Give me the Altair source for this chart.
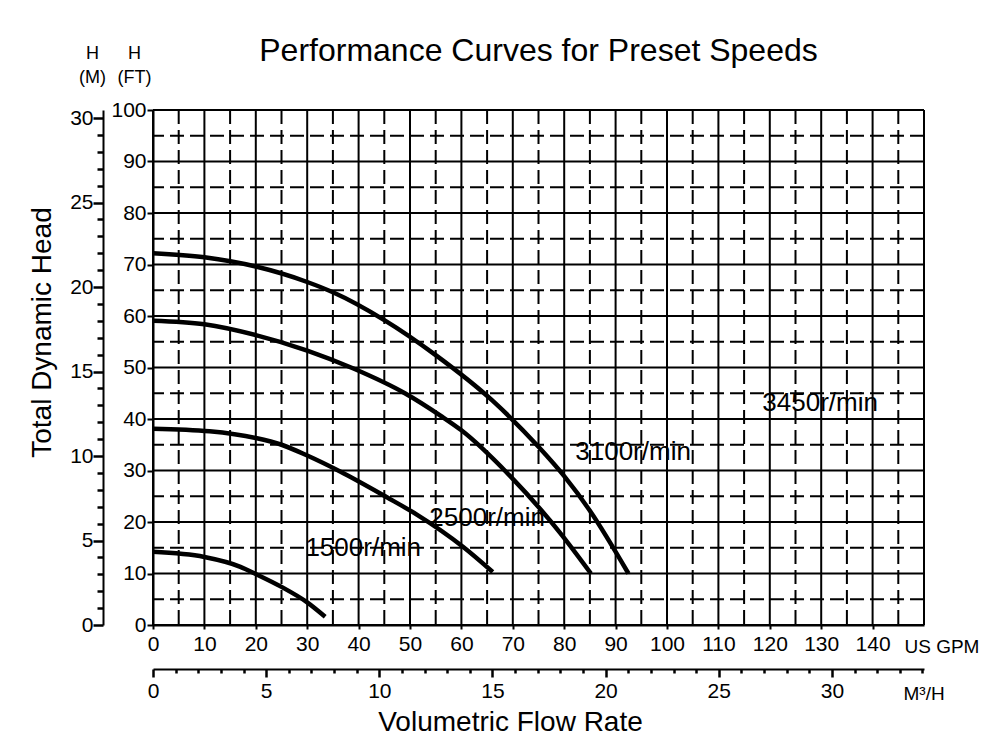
import altair as alt
import pandas as pd

FONT = "'Liberation Sans Narrow', 'Liberation Sans', Arial, sans-serif"

# ---- data ----
SPEEDS = ["3450r/min", "3100r/min", "2500r/min", "1500r/min"]
Q_3450 = [0, 10, 20, 30, 35, 45, 55, 66, 75, 80, 85, 92.5]
H_3450 = [72.2, 71.4, 69.6, 66.6, 64.6, 59.2, 52.4, 43.6, 34.6, 28.9, 22.2, 10]
Q_3100 = [0, 10, 20, 30, 39, 49, 56, 60, 69.5, 79.2, 85.2]
H_3100 = [59.1, 58.4, 56.3, 53.3, 49.8, 45.0, 40.6, 37.8, 28.9, 17.9, 10]
Q_2500 = [0, 11, 20, 25, 30, 36.4, 45.5, 51.4, 60.3, 66.1]
H_2500 = [38.1, 37.6, 36.3, 35, 32.9, 29.8, 24.8, 21.4, 15.2, 10.3]
Q_1500 = [0, 10, 17, 20, 25, 30, 33.5]
H_1500 = [14.2, 13.2, 11.3, 9.9, 7.4, 4.4, 1.6]

LABEL_Q = [129.8, 93.4, 65, 40.9]
LABEL_H = [43.2, 33.5, 20.8, 15]

GPM_TICKS = [0, 10, 20, 30, 40, 50, 60, 70, 80, 90, 100, 110, 120, 130, 140]
FT_TICKS = [0, 10, 20, 30, 40, 50, 60, 70, 80, 90, 100]
GRID_GPM_MAJOR = [0, 10, 20, 30, 40, 50, 60, 70, 80, 90, 100, 110, 120, 130, 140, 150]
GRID_GPM_MINOR = [5, 15, 25, 35, 45, 55, 65, 75, 85, 95, 105, 115, 125, 135, 145]
GRID_FT_MAJOR = [0, 10, 20, 30, 40, 50, 60, 70, 80, 90, 100]
GRID_FT_MINOR = [5, 15, 25, 35, 45, 55, 65, 75, 85, 95]
M_TICKS = list(range(0, 31))        # metres
M3H_TICKS = list(range(0, 35))      # cubic metres per hour

GPM_MAX = 150
FT_MAX = 100
FT_TO_M = 0.3048
GPM_TO_M3H = 0.2271247

rows = []
for name, qs, hs in [(SPEEDS[0], Q_3450, H_3450), (SPEEDS[1], Q_3100, H_3100),
                     (SPEEDS[2], Q_2500, H_2500), (SPEEDS[3], Q_1500, H_1500)]:
    for q, h in zip(qs, hs):
        rows.append({"speed": name, "gpm": q, "ft": h})
curves_df = pd.DataFrame(rows)
labels_df = pd.DataFrame({"speed": SPEEDS, "gpm": LABEL_Q, "ft": LABEL_H})

xs = alt.Scale(domain=[0, GPM_MAX], nice=False, zero=False)
ys = alt.Scale(domain=[0, FT_MAX], nice=False, zero=False)

TICK_FS = 21

x_axis = alt.Axis(orient="bottom", values=GPM_TICKS, grid=False, tickSize=4, tickWidth=2,
                  tickColor="black", domainColor="black", domainWidth=2, labelFont=FONT,
                  labelFontSize=TICK_FS, labelColor="black", labelPadding=4, labelFlush=False,
                  title="US GPM", titleFont=FONT, titleFontSize=19, titleFontWeight="normal",
                  titleColor="black", titleX=751, titleY=27, titleAlign="left",
                  titleBaseline="alphabetic", titleAngle=0)
y_axis = alt.Axis(orient="left", values=FT_TICKS, grid=False, tickSize=6, tickWidth=2,
                  tickColor="black", domainColor="black", domainWidth=2, labelFont=FONT,
                  labelFontSize=TICK_FS, labelColor="black", labelPadding=1, labelFlush=False,
                  title=["H", "(FT)"], titleFont=FONT, titleFontSize=18, titleFontWeight="normal",
                  titleColor="black", titleAngle=0, titleX=-19, titleY=-52, titleAlign="center",
                  titleBaseline="alphabetic", titleLineHeight=24)

v_solid = alt.Chart(pd.DataFrame({"gpm": GRID_GPM_MAJOR})).mark_rule(
    color="black", strokeWidth=2).encode(x=alt.X("gpm:Q", scale=xs, axis=x_axis))
h_solid = alt.Chart(pd.DataFrame({"ft": GRID_FT_MAJOR})).mark_rule(
    color="black", strokeWidth=2).encode(y=alt.Y("ft:Q", scale=ys, axis=y_axis))
v_dash = alt.Chart(pd.DataFrame({"gpm": GRID_GPM_MINOR})).mark_rule(
    color="black", strokeWidth=2, strokeDash=[14, 6]).encode(x=alt.X("gpm:Q", scale=xs, axis=None))
h_dash = alt.Chart(pd.DataFrame({"ft": GRID_FT_MINOR})).mark_rule(
    color="black", strokeWidth=2, strokeDash=[14, 6]).encode(y=alt.Y("ft:Q", scale=ys, axis=None))

curves = alt.Chart(curves_df).mark_line(color="black", strokeWidth=4.5, interpolate="monotone").encode(
    x=alt.X("gpm:Q", scale=xs, axis=None),
    y=alt.Y("ft:Q", scale=ys, axis=None),
    detail="speed:N",
    order="gpm:Q",
)
labels = alt.Chart(labels_df).mark_text(font=FONT, fontSize=26, color="black",
                                        align="center", baseline="middle").encode(
    x=alt.X("gpm:Q", scale=xs, axis=None),
    y=alt.Y("ft:Q", scale=ys, axis=None),
    text="speed:N",
)

# metric axes on the same scales (tick positions converted to GPM / ft)
m_expr = "round(datum.value * %s)" % FT_TO_M
q_expr = "round(datum.value * %s)" % GPM_TO_M3H
metric_df = pd.DataFrame({"gpm": [0], "ft": [0]})
metric = alt.Chart(metric_df).mark_point(opacity=0).encode(
    x=alt.X("gpm:Q", scale=xs,
            axis=alt.Axis(orient="bottom", offset=44, values=[v / GPM_TO_M3H for v in M3H_TICKS],
                          grid=False,
                          tickSize={"condition": {"test": q_expr + " % 5 === 0", "value": 8}, "value": 4},
                          tickWidth=2.5, tickColor="black", domainColor="black", domainWidth=2,
                          labelExpr=q_expr + " % 5 === 0 ? '' + " + q_expr + " : ''",
                          labelFont=FONT, labelFontSize=TICK_FS, labelColor="black", labelPadding=3,
                          labelFlush=False,
                          title="M³/H", titleFont=FONT, titleFontSize=19, titleFontWeight="normal",
                          titleColor="black", titleX=750, titleY=30, titleAlign="left",
                          titleBaseline="alphabetic", titleAngle=0)),
    y=alt.Y("ft:Q", scale=ys,
            axis=alt.Axis(orient="left", offset=50, values=[v / FT_TO_M for v in M_TICKS], grid=False,
                          tickSize={"condition": {"test": m_expr + " % 5 === 0", "value": 10}, "value": 6},
                          tickWidth=2.5, tickColor="black", domainColor="black", domainWidth=2,
                          labelExpr=m_expr + " % 5 === 0 ? '' + " + m_expr + " : ''",
                          labelFont=FONT, labelFontSize=TICK_FS, labelColor="black", labelPadding=0,
                          labelFlush=False,
                          title=["H", "(M)"], titleFont=FONT, titleFontSize=18, titleFontWeight="normal",
                          titleColor="black", titleAngle=0, titleX=-11, titleY=-52, titleAlign="center",
                          titleBaseline="alphabetic", titleLineHeight=24)),
)

# overall axis titles
titles = alt.Chart(metric_df).mark_point(opacity=0).encode(
    x=alt.X("gpm:Q", scale=xs,
            axis=alt.Axis(orient="bottom", labels=False, ticks=False, domain=False, grid=False,
                          title="Volumetric Flow Rate", titleFont=FONT, titleFontSize=28,
                          titleFontWeight="normal", titleColor="black", titleX=357, titleY=105,
                          titleAlign="center", titleBaseline="alphabetic", titleAngle=0)),
    y=alt.Y("ft:Q", scale=ys,
            axis=alt.Axis(orient="left", labels=False, ticks=False, domain=False, grid=False,
                          title="Total Dynamic Head", titleFont=FONT, titleFontSize=28,
                          titleFontWeight="normal", titleColor="black", titleX=-103, titleY=222,
                          titleAlign="center", titleBaseline="alphabetic", titleAngle=270)),
)

chart = alt.layer(v_solid, h_solid, v_dash, h_dash, curves, labels, metric, titles).resolve_axis(
    x="independent", y="independent"
).properties(
    width=771,
    height=515,
    padding={"left": 145, "top": 102, "right": 60, "bottom": 115},
    autosize=alt.AutoSizeParams(type="none"),
    title=alt.Title("Performance Curves for Preset Speeds", font=FONT, fontSize=32,
                    fontWeight="normal", color="black", anchor="middle", dy=28),
).configure_view(stroke=None).configure(font=FONT, background="white")

chart.save("out.html", embed_options={"renderer": "svg", "actions": False})
